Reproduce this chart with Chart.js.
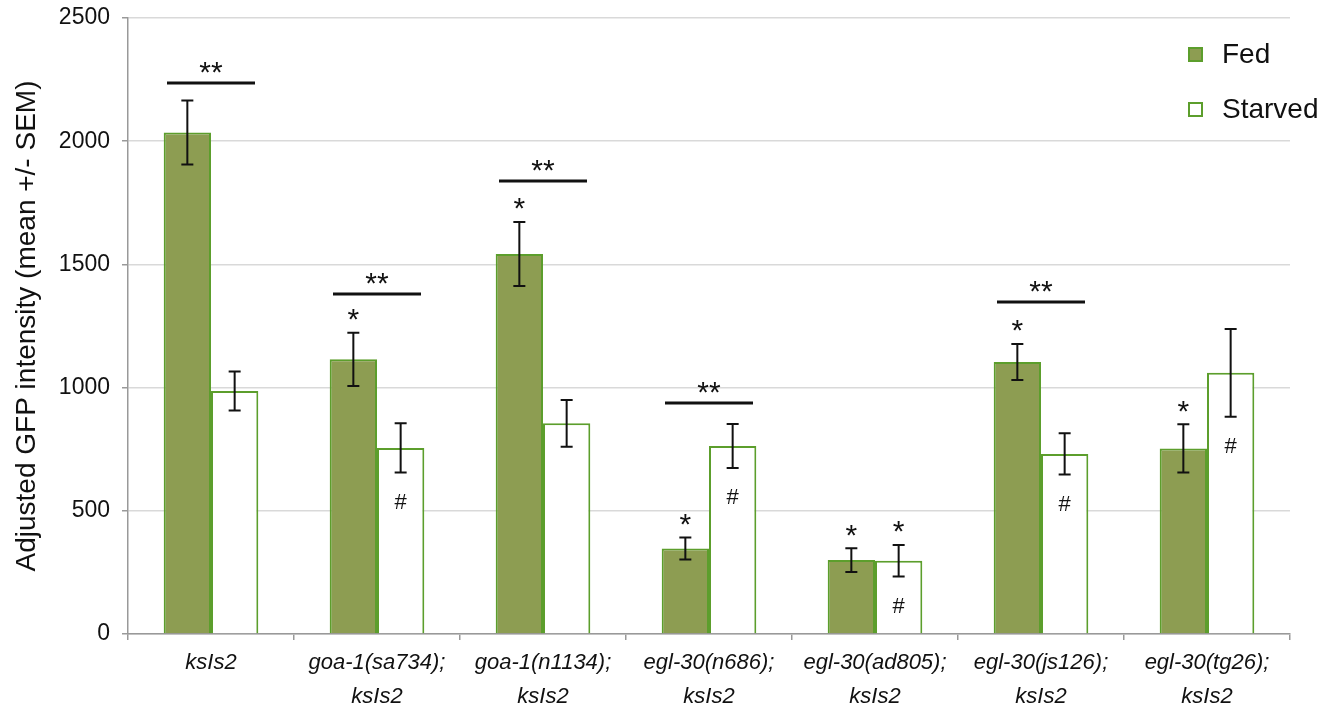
<!DOCTYPE html>
<html>
<head>
<meta charset="utf-8">
<script src="https://cdn.jsdelivr.net/npm/chart.js@4"></script>
<style>
  html, body { margin: 0; padding: 0; background: #fff; }
  #wrap { width: 1331px; height: 712px; }
</style>
</head>
<body>
<div id="wrap"><canvas id="myChart" width="1331" height="712"></canvas></div>
<script>
// strains (two-line labels)
const strains = [
  ['ksIs2'],
  ['goa-1(sa734);', 'ksIs2'],
  ['goa-1(n1134);', 'ksIs2'],
  ['egl-30(n686);', 'ksIs2'],
  ['egl-30(ad805);', 'ksIs2'],
  ['egl-30(js126);', 'ksIs2'],
  ['egl-30(tg26);', 'ksIs2']
];
const seriesNames = ['Fed', 'Starved'];
const fedMean = [2035, 1115, 1542, 347, 300, 1104, 753];
const fedSem = [130, 108, 130, 45, 48, 73, 98];
const starvedMean = [986, 755, 855, 763, 297, 731, 1060];
const starvedSem = [79, 100, 95, 89, 64, 84, 178];
// significance marks
const sigLine = [2236, 1380, 1838, 938, null, 1347, null]; // "**" fed vs starved
const fedStar = [false, true, true, true, true, true, true];
const starvedStar = [false, false, false, false, true, false, false];
const starvedHash = [false, true, false, true, true, true, true];
const yTicks = [0, 500, 1000, 1500, 2000, 2500];

const FONT = 'Liberation Sans, Arial, sans-serif';
const FED_FILL = '#8d9d52';
const GREEN = '#5c9e2c';

const annotations = {
  id: 'annotations',
  afterDatasetsDraw(chart) {
    const ctx = chart.ctx;
    const y = chart.scales.y;
    const x = chart.scales.x;
    const fedBars = chart.getDatasetMeta(0).data;
    const stBars = chart.getDatasetMeta(1).data;
    ctx.save();
    ctx.strokeStyle = '#111';
    ctx.fillStyle = '#111';

    // error bars
    const drawErr = (bar, mean, sem) => {
      const top = y.getPixelForValue(mean + sem);
      const bot = y.getPixelForValue(mean - sem);
      ctx.lineWidth = 2;
      ctx.beginPath();
      ctx.moveTo(bar.x, top); ctx.lineTo(bar.x, bot);
      ctx.moveTo(bar.x - 6, top); ctx.lineTo(bar.x + 6, top);
      ctx.moveTo(bar.x - 6, bot); ctx.lineTo(bar.x + 6, bot);
      ctx.stroke();
    };
    fedBars.forEach((b, i) => drawErr(b, fedMean[i], fedSem[i]));
    stBars.forEach((b, i) => drawErr(b, starvedMean[i], starvedSem[i]));

    ctx.textAlign = 'center';
    ctx.textBaseline = 'middle';
    ctx.font = '30px ' + FONT;
    const star = (bx, val) => {
      ctx.fillText('*', bx, y.getPixelForValue(val) - 12);
    };
    fedBars.forEach((b, i) => { if (fedStar[i]) star(b.x, fedMean[i] + fedSem[i]); });
    stBars.forEach((b, i) => { if (starvedStar[i]) star(b.x, starvedMean[i] + starvedSem[i]); });

    ctx.font = '22px ' + FONT;
    stBars.forEach((b, i) => {
      if (starvedHash[i]) ctx.fillText('#', b.x, y.getPixelForValue(starvedMean[i] - starvedSem[i]) + 30);
    });

    // ** lines
    sigLine.forEach((v, i) => {
      if (v === null) return;
      const cx = x.getPixelForValue(i);
      const py = y.getPixelForValue(v);
      ctx.lineWidth = 3;
      ctx.beginPath();
      ctx.moveTo(cx - 44, py); ctx.lineTo(cx + 44, py);
      ctx.stroke();
      ctx.font = '30px ' + FONT;
      ctx.fillText('**', cx, py - 9);
    });

    // legend
    ctx.textAlign = 'left';
    ctx.font = '28px ' + FONT;
    const lx = 1189;
    const ly = [55, 110];
    seriesNames.forEach((name, k) => {
      ctx.lineWidth = 2;
      ctx.strokeStyle = GREEN;
      ctx.fillStyle = k === 0 ? FED_FILL : '#fff';
      ctx.fillRect(lx, ly[k] - 7, 13, 13);
      ctx.strokeRect(lx, ly[k] - 7, 13, 13);
      ctx.fillStyle = '#111';
      ctx.fillText(name, lx + 33, ly[k]);
    });
    ctx.restore();
  }
};

new Chart(document.getElementById('myChart').getContext('2d'), {
  type: 'bar',
  data: {
    labels: strains,
    datasets: [
      {
        label: seriesNames[0],
        data: fedMean,
        backgroundColor: FED_FILL,
        borderColor: GREEN,
        borderWidth: 2,
        categoryPercentage: 0.57,
        barPercentage: 1
      },
      {
        label: seriesNames[1],
        data: starvedMean,
        backgroundColor: '#fff',
        borderColor: GREEN,
        borderWidth: 2,
        categoryPercentage: 0.57,
        barPercentage: 1
      }
    ]
  },
  options: {
    responsive: false,
    animation: false,
    layout: { padding: { left: 0, right: 41, top: 18, bottom: 0 } },
    plugins: {
      legend: { display: false },
      tooltip: { enabled: false }
    },
    scales: {
      x: {
        grid: {
          offset: true,
          drawOnChartArea: false,
          tickLength: 6,
          tickColor: '#999',
          lineWidth: 1.5
        },
        border: { color: '#999', width: 1.5 },
        ticks: {
          color: '#111',
          padding: 5,
          maxRotation: 0,
          font: { family: FONT, size: 22, style: 'italic', lineHeight: 1.58 }
        },
        afterFit(scale) { scale.height = 78; }
      },
      y: {
        min: 0,
        max: 2500,
        afterBuildTicks(scale) { scale.ticks = yTicks.map(v => ({ value: v })); },
        grid: {
          color: '#d9d9d9',
          lineWidth: 1.5,
          tickLength: 6,
          tickColor: '#999'
        },
        border: { color: '#999', width: 1.5 },
        ticks: {
          color: '#111',
          padding: 12,
          font: { family: FONT, size: 23 },
          callback: v => String(v)
        },
        title: {
          display: true,
          text: 'Adjusted GFP intensity (mean +/- SEM)',
          color: '#111',
          font: { family: FONT, size: 28 },
          padding: { top: 10, bottom: 0 }
        },
        afterFit(scale) {
          scale.width = 128;
          scale.paddingTop = 0;
          scale.paddingBottom = 0;
        }
      }
    }
  },
  plugins: [annotations]
});
</script>
</body>
</html>
